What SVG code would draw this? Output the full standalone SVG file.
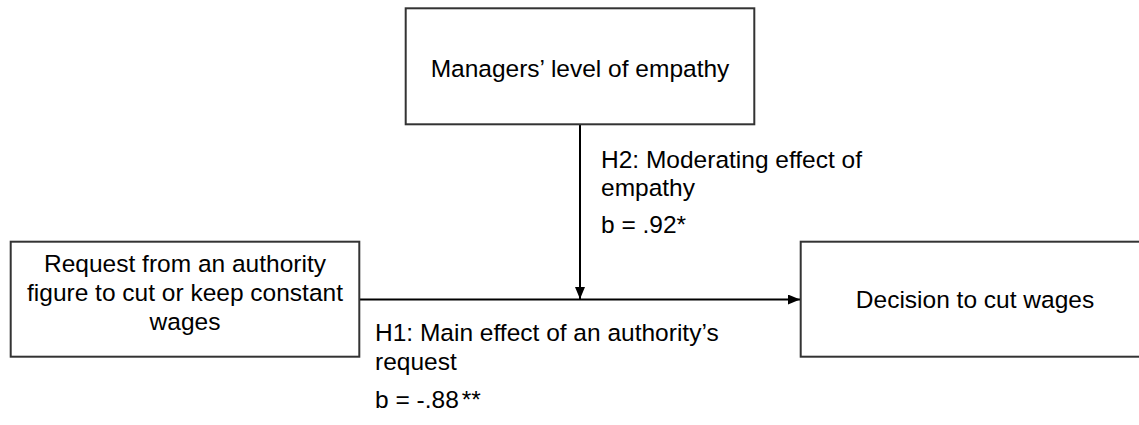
<svg xmlns="http://www.w3.org/2000/svg" width="1139" height="425" viewBox="0 0 1139 425">
<defs>
<style>
.box{fill:#fff;stroke:#333;stroke-width:2}
.t{font-family:"Liberation Sans",Arial,sans-serif;font-size:24.5px;fill:#000}
.c{text-anchor:middle}
.ln{stroke:#000;stroke-width:2;fill:none}
</style>
<marker id="ah" viewBox="0 0 12 10" refX="12" refY="5" markerWidth="12" markerHeight="10" markerUnits="userSpaceOnUse" orient="auto">
<path d="M0,0 L12,5 L0,10 Z" fill="#000"/>
</marker>
</defs>
<rect width="1139" height="425" fill="#fff"/>
<g id="connectors">
<line class="ln" x1="359.5" y1="299.5" x2="800" y2="299.5" marker-end="url(#ah)"/>
<line class="ln" x1="580" y1="124.5" x2="580" y2="299" marker-end="url(#ah)"/>
</g>
<g id="node-empathy">
<rect class="box" x="405.7" y="8.3" width="348.6" height="116"/>
<text class="t c" x="580" y="77">Managers’ level of empathy</text>
</g>
<g id="node-request">
<rect class="box" x="10.7" y="241.7" width="348.6" height="115"/>
<text class="t c" x="185" y="272">Request from an authority</text>
<text class="t c" x="185" y="301">figure to cut or keep constant</text>
<text class="t c" x="185" y="330">wages</text>
</g>
<g id="node-decision">
<rect class="box" x="800.7" y="241.7" width="348.6" height="115"/>
<text class="t c" x="975" y="308">Decision to cut wages</text>
</g>
<g id="label-h2">
<text class="t" x="601" y="168">H2: Moderating effect of</text>
<text class="t" x="601" y="196">empathy</text>
<text class="t" x="601" y="233">b = .92*</text>
</g>
<g id="label-h1">
<text class="t" x="375" y="341">H1: Main effect of an authority’s</text>
<text class="t" x="375" y="370">request</text>
<text class="t" x="375" y="408">b = -.88<tspan dx="3">**</tspan></text>
</g>
</svg>
